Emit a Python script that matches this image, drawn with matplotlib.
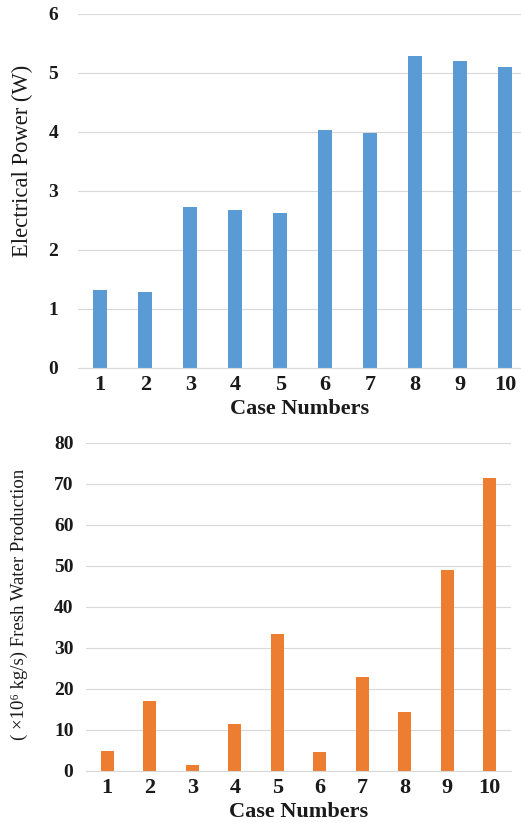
import matplotlib
matplotlib.use("Agg")
import matplotlib.pyplot as plt
import numpy as np

plt.rcParams["font.family"] = ["Liberation Serif", "DejaVu Serif"]

cases = ["1", "2", "3", "4", "5", "6", "7", "8", "9", "10"]
power_w = [1.31, 1.29, 2.72, 2.68, 2.63, 4.03, 3.97, 5.29, 5.20, 5.10]
fresh_water = [4.9, 17.1, 1.5, 11.5, 33.3, 4.6, 22.9, 14.4, 48.9, 71.3]

_BLUE = "#5b9bd5"
_ORANGE = "#ed7d31"
_GRID = "#d9d9d9"
_TEXT = "#1a1a1a"

W, H = 521, 823
fig = plt.figure(figsize=(W / 100, H / 100), dpi=100)
fig.patch.set_facecolor("white")


def style_axes(ax, ymax, ystep, ytick_pad):
    ax.set_ylim(0, ymax)
    ax.set_yticks(np.arange(0, ymax + ystep / 2, ystep))
    ax.grid(axis="y", color=_GRID, linewidth=0.8)
    ax.set_axisbelow(True)
    for side in ("top", "right", "left"):
        ax.spines[side].set_visible(False)
    ax.spines["bottom"].set_color(_GRID)
    ax.spines["bottom"].set_linewidth(0.8)
    ax.tick_params(axis="both", length=0, colors=_TEXT)
    ax.tick_params(axis="y", labelsize=14, pad=ytick_pad)
    ax.tick_params(axis="x", labelsize=16, pad=5)
    for lab in ax.get_xticklabels() + ax.get_yticklabels():
        lab.set_fontweight("bold")


x = np.arange(len(cases))

# --- top: electrical power ---
ax1 = fig.add_axes([77.8 / W, 1 - 367.7 / H, (W - 77.8) / W, 354 / H])
ax1.bar(x, power_w, width=0.31, color=_BLUE, zorder=2)
ax1.set_xticks(x, cases)
ax1.set_xlim(-0.5, 9.35)
style_axes(ax1, 6, 1, 14)
ax1.set_xlabel("Case Numbers", fontsize=16, fontweight="bold", labelpad=3, color=_TEXT)
ax1.set_ylabel("Electrical Power (W)", fontsize=16.3, color=_TEXT)
ax1.yaxis.set_label_coords(-0.101, 0.585)

# --- bottom: fresh water production ---
ax2 = fig.add_axes([86 / W, 1 - 770.7 / H, 425 / W, 328 / H])
ax2.bar(x, fresh_water, width=0.31, color=_ORANGE, zorder=2)
ax2.set_xticks(x, cases)
ax2.set_xlim(-0.5, 9.5)
style_axes(ax2, 80, 10, 9)
ax2.set_xlabel("Case Numbers", fontsize=16, fontweight="bold", labelpad=3, color=_TEXT)
ax2.set_ylabel("( ×10⁶ kg/s) Fresh Water Production", fontsize=13.5, color=_TEXT)
ax2.yaxis.set_label_coords(-0.136, 0.508)

fig.savefig("out.png", dpi=100, facecolor="white")
